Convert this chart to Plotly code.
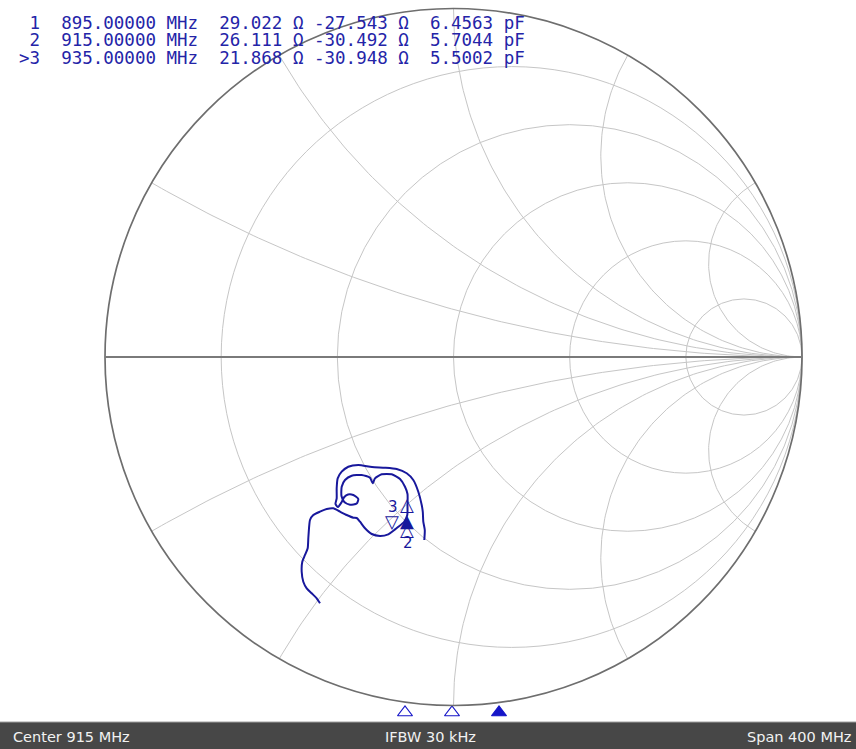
import numpy as np
import plotly.graph_objects as go

# ---------------- data ----------------
# Reflection coefficient of the measured trace, in sweep order (715 -> 1115 MHz)
GAMMA_RE = [
    -0.0838, -0.0824, -0.0867, -0.0881, -0.0912, -0.1010, -0.1154, -0.1343, -0.1630, -0.1966,
    -0.2339, -0.2732, -0.3019, -0.3208, -0.3323, -0.3352, -0.3352, -0.3386, -0.3314,
    -0.3208, -0.3133, -0.3027, -0.2875, -0.2732, -0.2778, -0.2970, -0.3133, -0.3214,
    -0.3208, -0.3113, -0.2921, -0.2634, -0.2396, -0.2319, -0.2253, -0.2060, -0.1773, -0.1535,
    -0.1392, -0.1320, -0.1320, -0.1326, -0.1420, -0.1593, -0.1736,
    -0.1871, -0.2109, -0.2347, -0.2539, -0.2683, -0.2778, -0.2875, -0.3065, -0.3257, -0.3449,
    -0.3638, -0.3831, -0.4023, -0.4118, -0.4146, -0.4166, -0.4184, -0.4261, -0.4339, -0.4356,
    -0.4310, -0.4212, -0.4069, -0.3925, -0.3831,
]
GAMMA_IM = [
    -0.5251, -0.4964, -0.4726, -0.4448, -0.4247, -0.3865, -0.3529, -0.3337, -0.3214, -0.3176,
    -0.3156, -0.3099, -0.3148, -0.3291, -0.3481, -0.3768, -0.4054, -0.4218, -0.4304,
    -0.4161, -0.4017, -0.3945, -0.3960, -0.4075, -0.4204, -0.4241, -0.4161, -0.3989,
    -0.3722, -0.3529, -0.3406, -0.3386, -0.3463, -0.3624, -0.3481, -0.3366, -0.3366, -0.3501,
    -0.3722, -0.3931, -0.4247, -0.4534, -0.4735, -0.4878, -0.4993,
    -0.5088, -0.5136, -0.5079, -0.4915, -0.4726, -0.4620, -0.4611, -0.4534, -0.4439, -0.4341,
    -0.4362, -0.4439, -0.4534, -0.4677, -0.4915, -0.5202, -0.5489, -0.5681, -0.5874, -0.6161,
    -0.6448, -0.6637, -0.6781, -0.6924, -0.7068,
]

MARKER_NO = ["1", "2", ">3"]
MARKER_FREQ_MHZ = [895.0, 915.0, 935.0]
MARKER_R_OHM = [29.022, 26.111, 21.868]
MARKER_X_OHM = [-27.543, -30.492, -30.948]
MARKER_C_PF = [6.4563, 5.7044, 5.5002]
ACTIVE_MARKER = 2

R_GRID = [0.2, 0.5, 1.0, 2.0, 5.0]
X_GRID = [0.2679, 0.5774, 1.0, 1.7321, 3.7321]

Z0 = 50.0
CENTER_MHZ = 915
SPAN_MHZ = 400
IFBW_KHZ = 30

# ---------------- layout constants ----------------
W, H = 856, 749
CX, CY, RAD = 453.5, 357.0, 348.5        # chart centre / radius in pixels
BAR_H = 27                                # status bar height in px
STIM_CX, PX_PER_MHZ, STIM_Y = 452.0, 2.35, 712.5

BLUE = "#18189c"
TXT_BLUE = "#2424a8"
GRID = "#c6c6c6"
FRAME = "#6e6e6e"

fig = go.Figure()

# constant-reactance arcs (grid)
for xv in X_GRID:
    phi = np.radians(np.linspace(-90.0, -90.0 - 2.0 * np.degrees(np.arctan(xv)), 120))
    rho = 1.0 / xv
    gx = 1.0 + rho * np.cos(phi)
    gy = rho + rho * np.sin(phi)
    for sgn in (1, -1):
        fig.add_trace(go.Scatter(x=gx, y=sgn * gy, mode="lines",
                                 line=dict(color=GRID, width=1),
                                 hoverinfo="skip", showlegend=False))

shapes = []
# constant-resistance circles (grid)
for rv in R_GRID:
    c, rho = rv / (1 + rv), 1 / (1 + rv)
    shapes.append(dict(type="circle", xref="x", yref="y", x0=c - rho, x1=c + rho,
                       y0=-rho, y1=rho, line=dict(color=GRID, width=1), layer="below"))
# outer circle and real axis
shapes.append(dict(type="circle", xref="x", yref="y", x0=-1, x1=1, y0=-1, y1=1,
                   line=dict(color=FRAME, width=1.7), layer="above"))
shapes.append(dict(type="line", xref="x", yref="y", x0=-1, x1=1, y0=0, y1=0,
                   line=dict(color="#7a7a7a", width=2), layer="above"))
# status bar
shapes.append(dict(type="rect", xref="paper", yref="paper", x0=0, x1=1, y0=0,
                   y1=BAR_H / H, fillcolor="#474747", line=dict(width=0), layer="above"))
shapes.append(dict(type="line", xref="paper", yref="paper", x0=0, x1=1, y0=BAR_H / H,
                   y1=BAR_H / H, line=dict(color="#a0a0a0", width=1), layer="above"))

# measured trace
fig.add_trace(go.Scatter(x=GAMMA_RE, y=GAMMA_IM, mode="lines",
                         line=dict(color=BLUE, width=2, shape="spline", smoothing=0.6),
                         hoverinfo="skip", showlegend=False))

# marker positions on the chart (from the marker readout)
z = (np.array(MARKER_R_OHM) + 1j * np.array(MARKER_X_OHM)) / Z0
gam = (z - 1) / (z + 1)
mre, mim = gam.real, gam.imag

annotations = []
# marker glyphs (index, text, dx px, dy px down, font size)
glyphs = [
    (0, "△", -2, 10, 18),
    (0, "▲", -2, 26.5, 18),
    (1, "△", -0.7, 14, 18),
    (1, "2", 0.3, 27.5, 15),
    (2, "▽", -1.3, -12, 18),
    (2, "3", -0.3, -26.5, 15),
]
for i, t, dx, dy, fs in glyphs:
    annotations.append(dict(x=mre[i], y=mim[i], xref="x", yref="y", text=t, showarrow=False,
                            xshift=dx, yshift=-dy,
                            font=dict(family="DejaVu Sans", size=fs, color=BLUE)))

# stimulus-axis marker triangles
fig.add_trace(go.Scatter(
    x=MARKER_FREQ_MHZ, y=[(CY - STIM_Y) / RAD] * len(MARKER_FREQ_MHZ),
    xaxis="x2", yaxis="y", mode="markers", hoverinfo="skip", showlegend=False,
    marker=dict(symbol=["triangle-up" if k == ACTIVE_MARKER else "triangle-up-open"
                        for k in range(len(MARKER_FREQ_MHZ))],
                size=13, color="#1515c8", line=dict(color="#1515c8", width=1.2))))

# marker readout table
NB = "\u00a0"
row_y = [22.5, 40.2, 57.8]
for k in range(len(MARKER_NO)):
    s = (f"{MARKER_NO[k]:>2}  {MARKER_FREQ_MHZ[k]:.5f} MHz  {MARKER_R_OHM[k]:.3f} Ω "
         f"{MARKER_X_OHM[k]:.3f} Ω  {MARKER_C_PF[k]:.4f} pF").replace(" ", NB)
    annotations.append(dict(x=16.5 / W, y=1 - row_y[k] / H, xref="paper", yref="paper",
                            xanchor="left", yanchor="middle", text=s, showarrow=False,
                            font=dict(family="DejaVu Sans Mono", size=17.5, color=TXT_BLUE)))

# status bar texts
bar_font = dict(family="DejaVu Sans", size=14.5, color="#f2f2f2")
by = (H - 737) / H
annotations += [
    dict(x=11 / W, y=by, xref="paper", yref="paper", xanchor="left", yanchor="middle",
         text=f"Center {CENTER_MHZ} MHz", showarrow=False, font=bar_font),
    dict(x=430 / W, y=by, xref="paper", yref="paper", xanchor="center", yanchor="middle",
         text=f"IFBW {IFBW_KHZ} kHz", showarrow=False, font=bar_font),
    dict(x=853 / W, y=by, xref="paper", yref="paper", xanchor="right", yanchor="middle",
         text=f"Span {SPAN_MHZ} MHz", showarrow=False, font=bar_font),
]

fig.update_layout(
    width=W, height=H, margin=dict(l=0, r=0, t=0, b=0),
    paper_bgcolor="white", plot_bgcolor="white",
    xaxis=dict(range=[-CX / RAD, (W - CX) / RAD], visible=False, fixedrange=True),
    yaxis=dict(range=[-(H - CY) / RAD, CY / RAD], visible=False, fixedrange=True),
    xaxis2=dict(range=[CENTER_MHZ - STIM_CX / PX_PER_MHZ, CENTER_MHZ + (W - STIM_CX) / PX_PER_MHZ],
                overlaying="x", anchor="y", visible=False, fixedrange=True),
    shapes=shapes, annotations=annotations, showlegend=False,
)

fig.write_html("out.html", config={"staticPlot": True},
               post_script="document.body.style.margin='0';document.body.style.overflow='hidden';")
